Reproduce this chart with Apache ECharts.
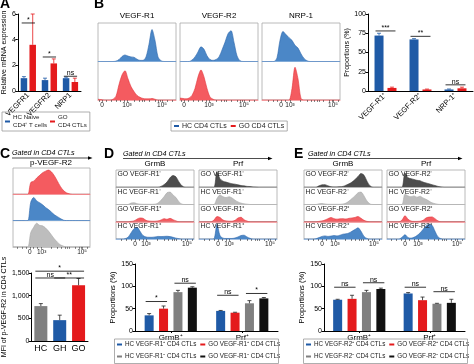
<!DOCTYPE html>
<html><head><meta charset="utf-8">
<script src="https://cdn.jsdelivr.net/npm/echarts@6/dist/echarts.min.js"></script>
<style>html,body{margin:0;padding:0;background:#fff}#c{width:474px;height:364px}</style>
</head><body><div id="c"></div>
<script>
// ---------------- DATA ----------------
// Panel A
const aCats = ['VEGFR1', 'VEGFR2', 'NRP1'];
const aHC = [1.0, 0.85, 1.0];
const aHCerr = [0.12, 0.15, 0.08];
const aGO = [3.6, 2.15, 0.7];
const aGOerr = [2.4, 0.35, 0.3];
const aSig = [[0, 0, 0, 1, 5.3], [1, 0, 1, 1, 2.65], [2, 0, 2, 1, 1.15]];
const aSigText = ['*', '*', 'ns'];
// Panel B bars
const bCats = ['VEGF-R1⁺', 'VEGF-R2⁺', 'NRP-1⁺'];
const bHC = [72, 67, 2];
const bHCerr = [3, 1, 0.6];
const bGO = [4, 2, 3.5];
const bGOerr = [1, 0.5, 1.5];
const bSig = [[0, 0, 0, 1, 78], [1, 0, 1, 1, 71], [2, 0, 2, 1, 8]];
const bSigText = ['***', '**', 'ns'];
// Panel C bars
const cCats = ['HC', 'GH', 'GO'];
const cVals = [770, 460, 1230];
const cErr = [55, 110, 150];
const cSig = [[0, 0, 1, 0, 1390], [0, 0, 2, 0, 1540], [1, 0, 2, 0, 1390]];
const cSigText = ['ns', '*', '**'];
// Panel D bars
const dCats = ['GrmB⁺', 'Prf⁺'];
const dHCpos = [35, 45], dHCposErr = [4, 1];
const dGOpos = [50, 41], dGOposErr = [6, 1];
const dHCneg = [87, 62], dHCnegErr = [4, 6];
const dGOneg = [97, 73], dGOnegErr = [2, 2];
const dSig = [[0, 0, 0, 1, 66], [0, 2, 0, 3, 107], [1, 0, 1, 1, 80], [1, 2, 1, 3, 84]];
const dSigText = ['*', 'ns', 'ns', '*'];
// Panel E bars
const eCats = ['GrmB⁺', 'Prf⁺'];
const eHCpos = [70, 84], eHCposErr = [1, 2];
const eGOpos = [72, 69], eGOposErr = [8, 7];
const eHCneg = [87, 61], eHCnegErr = [4, 1];
const eGOneg = [94, 63], eGOnegErr = [2, 8];
const eSig = [[0, 0, 0, 1, 98], [0, 2, 0, 3, 108], [1, 0, 1, 1, 98], [1, 2, 1, 3, 88]];
const eSigText = ['ns', 'ns', 'ns', 'ns'];

// Histograms (fluorescence channel 0..78, normalised counts)
const histX = [0,3,6,9,12,15,18,21,24,27,30,33,36,39,42,45,48,51,54,57,60,63,66,69,72,75,78];
const bR1_HC = [0,0,0,0,0,0,0.01,0.05,0.13,0.17,0.14,0.12,0.11,0.06,0.03,0.03,0.12,0.45,0.83,0.55,0.12,0.02,0,0,0,0,0];
const bR1_GO = [0.02,0.01,0,0,0,0.02,0.1,0.4,0.65,0.76,0.55,0.35,0.22,0.12,0.07,0.04,0.03,0.03,0.04,0.02,0,0,0,0,0,0,0];
const bR2_HC = [0,0,0,0,0.04,0.12,0.25,0.38,0.32,0.15,0.05,0.03,0.05,0.12,0.3,0.5,0.72,0.8,0.5,0.15,0.02,0,0,0,0,0,0];
const bR2_GO = [0.05,0.04,0.03,0.05,0.12,0.3,0.6,0.78,0.6,0.3,0.08,0.02,0,0,0,0,0,0,0,0,0,0,0,0,0,0,0];
const bNRP_HC = [0,0,0,0,0,0.1,0.55,0.78,0.7,0.62,0.55,0.42,0.35,0.2,0.08,0.02,0,0,0,0,0,0,0,0,0,0,0];
const bNRP_GO = [0,0,0,0,0,0,0,0,0,0,0.3,0.85,0.55,0.04,0,0,0,0,0,0,0,0,0,0,0,0,0];
const cGO = [0,0,0,0,0,0,0.45,0.5,0.62,0.72,0.82,0.88,0.92,0.85,0.7,0.5,0.3,0.15,0.06,0.02,0,0,0,0,0,0,0];
const cGH = [0,0,0,0,0,0,0.7,0.88,0.75,0.68,0.6,0.5,0.42,0.32,0.22,0.15,0.08,0.02,0,0,0,0,0,0,0,0,0];
const cHC = [0,0,0,0,0,0,0.55,0.75,0.9,0.82,0.8,0.72,0.6,0.45,0.3,0.18,0.08,0.03,0,0,0,0,0,0,0,0,0];
const dG_GOneg = [0,0,0,0,0,0,0,0,0,0,0,0,0,0,0,0.05,0.15,0.3,0.55,0.68,0.6,0.3,0.08,0,0,0,0];
const dG_HCneg = [0,0,0,0,0,0.08,0.1,0.05,0.02,0.01,0.01,0.01,0.01,0.02,0.08,0.25,0.45,0.68,0.72,0.55,0.4,0.15,0.02,0,0,0,0];
const dG_GOpos = [0,0,0,0,0,0.02,0.05,0.15,0.22,0.2,0.08,0.04,0.03,0.03,0.05,0.1,0.18,0.14,0.2,0.12,0.05,0,0,0,0,0,0];
const dG_HCpos = [0,0,0,0.02,0.1,0.35,0.6,0.68,0.45,0.2,0.12,0.1,0.1,0.12,0.15,0.14,0.15,0.16,0.14,0.1,0.05,0.02,0,0,0,0,0];
const dP_GOneg = [0,0,0,0,0,0,0.88,0.5,0.35,0.3,0.25,0.2,0.18,0.14,0.1,0.08,0.05,0.04,0.02,0.01,0,0,0,0,0,0,0];
const dP_HCneg = [0,0,0,0,0,0,0.35,0.55,0.45,0.4,0.45,0.38,0.25,0.15,0.08,0.04,0.02,0,0,0,0,0,0,0,0,0,0];
const dP_GOpos = [0,0,0,0,0,0.1,0.3,0.25,0.1,0.05,0.03,0.03,0.08,0.22,0.26,0.12,0.04,0,0,0,0,0,0,0,0,0,0];
const dP_HCpos = [0,0,0,0,0,0.02,0.85,0.2,0.05,0.03,0.03,0.03,0.06,0.12,0.2,0.22,0.12,0.04,0,0,0,0,0,0,0,0,0];
const eG_GOneg = [0,0,0,0,0,0.08,0.14,0.15,0.08,0.03,0.02,0.02,0.03,0.05,0.12,0.2,0.3,0.45,0.62,0.8,0.7,0.35,0.08,0,0,0,0];
const eG_HCneg = [0,0,0,0,0,0.04,0.06,0.03,0.01,0.01,0.01,0.01,0.01,0.03,0.08,0.2,0.35,0.5,0.68,0.72,0.5,0.2,0.03,0,0,0,0];
const eG_GOpos = [0,0,0,0,0,0.02,0.05,0.1,0.18,0.25,0.18,0.15,0.17,0.18,0.16,0.2,0.22,0.25,0.3,0.2,0.08,0.02,0,0,0,0,0];
const eG_HCpos = [0,0,0,0,0.02,0.08,0.15,0.18,0.15,0.17,0.2,0.18,0.22,0.28,0.3,0.35,0.45,0.55,0.65,0.45,0.15,0.03,0,0,0,0,0];
const eP_GOneg = [0,0,0,0,0,0,0.82,0.55,0.5,0.45,0.4,0.38,0.3,0.25,0.2,0.15,0.1,0.05,0.02,0,0,0,0,0,0,0,0];
const eP_HCneg = [0,0,0,0,0,0,0.6,0.5,0.45,0.5,0.42,0.48,0.38,0.3,0.2,0.1,0.05,0.01,0,0,0,0,0,0,0,0,0];
const eP_GOpos = [0,0,0,0,0,0.1,0.35,0.15,0.04,0.02,0.02,0.03,0.08,0.22,0.27,0.28,0.18,0.05,0,0,0,0,0,0,0,0,0];
const eP_HCpos = [0,0,0,0,0,0.1,0.25,0.08,0.05,0.1,0.2,0.35,0.55,0.75,0.85,0.8,0.45,0.12,0.02,0,0,0,0,0,0,0,0];

// histogram axis tick labels and positions
const histTickLabels = ['0', '10³', '10⁵'];
const bTickPos = [4, 29, 64];
const bNrpTickPos = [19, 28, 71];
const cTickPos = [17, 29, 70];
const dTickPos = [19, 30, 71];
const eTickPos = [18, 31, 70];
const bMinor = [1,4,8,13,18,22,26,29,36,41,44,46,51,57,60,62,64,69,74];
const bNrpMinor = [6,11,15,19,23,28,38,45,49,52,55,57,61,67,70,71,76];
const cMinor = [4,9,13,17,21,25,29,39,45,49,53,55,57,63,67,69,70,75];
const dMinor = [5,10,15,19,23,27,30,41,48,52,56,58,60,65,69,71,76];
const eMinor = [4,9,14,18,22,27,31,41,47,51,55,57,59,64,68,70,75];

// ---------------- LAYOUT / STYLE ----------------
const FONT = '"Liberation Sans", Arial, Helvetica, sans-serif';
const C = {blue: '#1f5aa6', red: '#e41a1c', gray: '#808080', black: '#111111'};
const H = {
  blue: {fill: '#4b87c7', line: '#2f68ad', base: '#a3c0e3'},
  red: {fill: '#f45b60', line: '#e2363c', base: '#f5a3a6'},
  dark: {fill: '#4d4d4d', line: '#3a3a3a', base: '#c4c4c4'},
  light: {fill: '#bdbdbd', line: '#aaaaaa', base: '#c4c4c4'}
};
const grids = [], xAxes = [], yAxes = [], series = [], legends = [], graphics = [];

function addHistBox(left, top, width, rowH, rows, tickPos, minor) {
  rows.forEach((r, i) => {
    const gi = grids.length;
    const last = i === rows.length - 1;
    grids.push({left: left, top: top + i * rowH, width: width, height: rowH, show: true,
      borderColor: '#a8a8a8', borderWidth: 0.8});
    xAxes.push({gridIndex: gi, type: 'value', min: 0, max: 78, splitLine: {show: false},
      axisLine: {show: true, onZero: false, lineStyle: {color: r.s.base, width: 1}},
      axisTick: last ? {show: true, customValues: minor, length: 2, lineStyle: {color: '#333', width: 0.6}} : {show: false},
      axisLabel: last ? {show: true, customValues: tickPos, formatter: v => histTickLabels[tickPos.indexOf(v)] || '',
        fontSize: 6.5, color: '#222', margin: 2, fontFamily: FONT} : {show: false}});
    yAxes.push({gridIndex: gi, type: 'value', min: 0, max: 1, show: false});
    series.push({type: 'line', xAxisIndex: gi, yAxisIndex: gi, silent: true, symbol: 'none', smooth: 0.3,
      data: histX.map((x, j) => [x, r.d[j]]),
      lineStyle: {color: r.s.line, width: 0.6}, areaStyle: {color: r.s.fill, opacity: 1}});
    if (r.label) {
      graphics.push({type: 'text', x: left + 1.5, y: top + i * rowH + 1, z: 50,
        style: {text: r.label, fill: '#1a1a1a', font: '6.8px ' + FONT, textVerticalAlign: 'top'}});
    }
  });
}

function addBarPanel(p) {
  const gi = grids.length;
  grids.push({left: p.left, top: p.top, width: p.width, height: p.height});
  xAxes.push({gridIndex: gi, type: 'category', data: p.cats,
    axisLine: {show: true, lineStyle: {color: '#000', width: 1}},
    axisTick: {show: !!p.catTick, alignWithLabel: true, length: 2, lineStyle: {color: '#000'}},
    axisLabel: {interval: 0, rotate: p.rotate || 0, fontSize: p.catFont, color: '#000', margin: p.catMargin, fontFamily: FONT}});
  yAxes.push({gridIndex: gi, type: 'value', min: 0, max: p.yMax, interval: p.yInt,
    name: p.yName, nameLocation: 'middle', nameGap: p.nameGap,
    nameTextStyle: {fontSize: p.nameFont, color: '#000', fontFamily: FONT},
    axisLine: {show: true, lineStyle: {color: '#000', width: 1}},
    axisTick: {show: true, length: 2.5, lineStyle: {color: '#000'}},
    axisLabel: {fontSize: 7, color: '#000', margin: 2, fontFamily: FONT},
    splitLine: {show: false}});
  const n = p.bars.length;
  const step = p.barW * (1 + p.gap);
  const off = k => (k - (n - 1) / 2) * step;
  p.bars.forEach((b, k) => {
    series.push({type: 'bar', name: b.name, xAxisIndex: gi, yAxisIndex: gi, silent: true,
      data: b.colors ? b.data.map((v, i) => ({value: v, itemStyle: {color: b.colors[i]}})) : b.data,
      barWidth: p.barW, barGap: (p.gap * 100) + '%', itemStyle: {color: b.color}});
    series.push({type: 'custom', xAxisIndex: gi, yAxisIndex: gi, silent: true, z: 5,
      data: b.data.map((v, i) => [i, v, b.err[i]]),
      renderItem: (params, api) => {
        const p0 = api.coord([api.value(0), api.value(1)]);
        const p1 = api.coord([api.value(0), api.value(1) + api.value(2)]);
        const x = p0[0] + off(k);
        const col = p.errColor || b.color || '#000';
        return {type: 'group', children: [
          {type: 'line', shape: {x1: x, y1: p0[1], x2: x, y2: p1[1]}, style: {stroke: col, lineWidth: 0.8}},
          {type: 'line', shape: {x1: x - 2, y1: p1[1], x2: x + 2, y2: p1[1]}, style: {stroke: col, lineWidth: 0.8}}]};
      }});
  });
  series.push({type: 'custom', xAxisIndex: gi, yAxisIndex: gi, silent: true, z: 6,
    data: p.sig,
    renderItem: (params, api) => {
      const a = api.coord([api.value(0), api.value(4)]);
      const c = api.coord([api.value(2), api.value(4)]);
      const x1 = a[0] + off(api.value(1)) - p.barW / 2 + 1;
      const x2 = c[0] + off(api.value(3)) + p.barW / 2 - 1;
      return {type: 'group', children: [
        {type: 'line', shape: {x1: x1, y1: a[1], x2: x2, y2: a[1]}, style: {stroke: '#000', lineWidth: 0.8}},
        {type: 'text', x: (x1 + x2) / 2, y: a[1] + 0.5,
          style: {text: p.sigText[params.dataIndex], fill: '#000', font: '7px ' + FONT, textAlign: 'center', textVerticalAlign: 'bottom'}}]};
    }});
}

function txt(x, y, text, font, align, valign, fill) {
  graphics.push({type: 'text', x: x, y: y, z: 50,
    style: {text: text, font: font, fill: fill || '#000', textAlign: align || 'left', textVerticalAlign: valign || 'top'}});
}
function gated(x1, x2, y) {
  txt(x1, y - 1.2, 'Gated in CD4 CTLs', 'italic 7.2px ' + FONT, 'left', 'bottom');
  graphics.push({type: 'line', z: 50, shape: {x1: x1, y1: y, x2: x2, y2: y}, style: {stroke: '#000', lineWidth: 0.7}});
  graphics.push({type: 'polygon', z: 50, shape: {points: [[x2, y - 1.8], [x2 + 4.5, y], [x2, y + 1.8]]}, style: {fill: '#000'}});
}
function legendBox(x, y, w, h) {
  graphics.push({type: 'rect', z: 40, shape: {x: x, y: y, width: w, height: h},
    style: {fill: 'none', stroke: '#999', lineWidth: 0.8}});
}
const legendText = {fontSize: 6.3, color: '#222', fontFamily: FONT, padding: [0, 0, 0, -2]};
function legendRow(left, top, names) {
  legends.push({left: left, top: top, width: 200, data: names, icon: 'rect', orient: 'horizontal',
    itemWidth: 5, itemHeight: 2, itemGap: 4, padding: 0, selectedMode: false, textStyle: legendText});
}

// ---------------- PANEL A ----------------
addBarPanel({left: 15, top: 14, width: 66, height: 77, cats: aCats, yMax: 6, yInt: 2,
  yName: 'Relative mRNA expression', nameGap: 9, nameFont: 7, rotate: 45, catFont: 7.5, catMargin: 3,
  barW: 6.5, gap: 0.35, sig: aSig, sigText: aSigText,
  bars: [{name: 'HC Naive\nCD4⁺ T cells', data: aHC, err: aHCerr, color: C.blue},
         {name: 'GO\nCD4 CTLs', data: aGO, err: aGOerr, color: C.red}]});
legends.push({left: 2, top: 112, data: ['HC Naive\nCD4⁺ T cells', 'GO\nCD4 CTLs'], icon: 'rect',
  itemWidth: 5, itemHeight: 2, itemGap: 3, padding: [2, 3], borderColor: '#999', borderWidth: 0.8, borderRadius: 0,
  selectedMode: false, textStyle: {fontSize: 6.2, lineHeight: 7.5, color: '#222', fontFamily: FONT, padding: [0, 0, 0, -2]}});

// ---------------- PANEL B ----------------
addHistBox(98, 23, 78, 38.5, [{d: bR1_HC, s: H.blue}, {d: bR1_GO, s: H.red}], bTickPos, bMinor);
addHistBox(180, 23, 78, 38.5, [{d: bR2_HC, s: H.blue}, {d: bR2_GO, s: H.red}], bTickPos, bMinor);
addHistBox(262, 23, 78, 38.5, [{d: bNRP_HC, s: H.blue}, {d: bNRP_GO, s: H.red}], bNrpTickPos, bNrpMinor);
txt(137, 16, 'VEGF-R1', '8px ' + FONT, 'center', 'middle');
txt(219, 16, 'VEGF-R2', '8px ' + FONT, 'center', 'middle');
txt(301, 16, 'NRP-1', '8px ' + FONT, 'center', 'middle');
addBarPanel({left: 368, top: 14, width: 105, height: 77, cats: bCats, yMax: 100, yInt: 25,
  yName: 'Proportions (%)', nameGap: 14, nameFont: 7, rotate: 45, catFont: 7.5, catMargin: 3,
  barW: 9, gap: 0.44, sig: bSig, sigText: bSigText,
  bars: [{name: 'HC CD4 CTLs', data: bHC, err: bHCerr, color: C.blue},
         {name: 'GO CD4 CTLs', data: bGO, err: bGOerr, color: C.red}]});
legends.push({left: 171, top: 121, data: ['HC CD4 CTLs', 'GO CD4 CTLs'], icon: 'rect',
  itemWidth: 5, itemHeight: 2, itemGap: 4, padding: [1.5, 3], borderColor: '#999', borderWidth: 0.8,
  selectedMode: false, textStyle: {fontSize: 7, color: '#222', fontFamily: FONT, padding: [0, 0, 0, -2]}});

// ---------------- PANEL C ----------------
gated(12, 88, 158);
txt(51, 163, 'p-VEGF-R2', '8px ' + FONT, 'center', 'middle');
addHistBox(13, 168, 77, 26.3, [{d: cGO, s: H.red}, {d: cGH, s: H.blue}, {d: cHC, s: H.light}], cTickPos, cMinor);
addBarPanel({left: 28, top: 273, width: 60, height: 68, cats: cCats, yMax: 1500, yInt: 500,
  yName: 'MFI of p-VEGF-R2 in CD4 CTLs', nameGap: 20, nameFont: 7, catFont: 9, catMargin: 3,
  barW: 13, gap: 0.3, sig: cSig, sigText: cSigText, errColor: '#222',
  bars: [{name: 'MFI', data: cVals, err: cErr, colors: [C.gray, C.blue, C.red]}]});

// ---------------- PANEL D ----------------
gated(123, 268, 158.5);
txt(155, 164, 'GrmB', '8px ' + FONT, 'center', 'middle');
txt(238, 164, 'Prf', '8px ' + FONT, 'center', 'middle');
addHistBox(116, 170, 78, 17.25, [
  {d: dG_GOneg, s: H.dark, label: 'GO VEGF-R1⁻'}, {d: dG_HCneg, s: H.light, label: 'HC VEGF-R1⁻'},
  {d: dG_GOpos, s: H.red, label: 'GO VEGF-R1⁺'}, {d: dG_HCpos, s: H.blue, label: 'HC VEGF-R1⁺'}], dTickPos, dMinor);
addHistBox(199, 170, 78, 17.25, [
  {d: dP_GOneg, s: H.dark, label: 'GO VEGF-R1⁻'}, {d: dP_HCneg, s: H.light, label: 'HC VEGF-R1⁻'},
  {d: dP_GOpos, s: H.red, label: 'GO VEGF-R1⁺'}, {d: dP_HCpos, s: H.blue, label: 'HC VEGF-R1⁺'}], dTickPos, dMinor);
const dNames = ['HC VEGF-R1⁺ CD4 CTLs', 'GO VEGF-R1⁺ CD4 CTLs', 'HC VEGF-R1⁻ CD4 CTLs', 'GO VEGF-R1⁻ CD4 CTLs'];
addBarPanel({left: 135, top: 264, width: 143, height: 67, cats: dCats, yMax: 150, yInt: 50,
  yName: 'Proportions (%)', nameGap: 15, nameFont: 7.5, catFont: 8, catMargin: 3, catTick: true,
  barW: 9, gap: 0.6, sig: dSig, sigText: dSigText, errColor: '#222',
  bars: [{name: dNames[0], data: dHCpos, err: dHCposErr, color: C.blue},
         {name: dNames[1], data: dGOpos, err: dGOposErr, color: C.red},
         {name: dNames[2], data: dHCneg, err: dHCnegErr, color: C.gray},
         {name: dNames[3], data: dGOneg, err: dGOnegErr, color: C.black}]});
legendRow(117, 341.5, [dNames[0], dNames[1]]);
legendRow(117, 353.5, [dNames[2], dNames[3]]);
legendBox(114.5, 339, 164, 24.5);

// ---------------- PANEL E ----------------
gated(308, 458, 158.5);
txt(343, 164, 'GrmB', '8px ' + FONT, 'center', 'middle');
txt(426, 164, 'Prf', '8px ' + FONT, 'center', 'middle');
addHistBox(304, 170, 78, 17.25, [
  {d: eG_GOneg, s: H.dark, label: 'GO VEGF-R2⁻'}, {d: eG_HCneg, s: H.light, label: 'HC VEGF-R2⁻'},
  {d: eG_GOpos, s: H.red, label: 'GO VEGF-R2⁺'}, {d: eG_HCpos, s: H.blue, label: 'HC VEGF-R2⁺'}], eTickPos, eMinor);
addHistBox(387, 170, 78, 17.25, [
  {d: eP_GOneg, s: H.dark, label: 'GO VEGF-R2⁻'}, {d: eP_HCneg, s: H.light, label: 'HC VEGF-R2⁻'},
  {d: eP_GOpos, s: H.red, label: 'GO VEGF-R2⁺'}, {d: eP_HCpos, s: H.blue, label: 'HC VEGF-R2⁺'}], eTickPos, eMinor);
const eNames = ['HC VEGF-R2⁺ CD4 CTLs', 'GO VEGF-R2⁺ CD4 CTLs', 'HC VEGF-R2⁻ CD4 CTLs', 'GO VEGF-R2⁻ CD4 CTLs'];
addBarPanel({left: 324, top: 264, width: 141, height: 67, cats: eCats, yMax: 150, yInt: 50,
  yName: 'Proportions (%)', nameGap: 15, nameFont: 7.5, catFont: 8, catMargin: 3, catTick: true,
  barW: 9, gap: 0.6, sig: eSig, sigText: eSigText, errColor: '#222',
  bars: [{name: eNames[0], data: eHCpos, err: eHCposErr, color: C.blue},
         {name: eNames[1], data: eGOpos, err: eGOposErr, color: C.red},
         {name: eNames[2], data: eHCneg, err: eHCnegErr, color: C.gray},
         {name: eNames[3], data: eGOneg, err: eGOnegErr, color: C.black}]});
legendRow(306, 341.5, [eNames[0], eNames[1]]);
legendRow(306, 353.5, [eNames[2], eNames[3]]);
legendBox(303.5, 339, 164, 24.5);

// Panel letters
txt(0, -3, 'A', 'bold 14px ' + FONT);
txt(94, -3, 'B', 'bold 14px ' + FONT);
txt(0, 147, 'C', 'bold 14px ' + FONT);
txt(104, 147, 'D', 'bold 14px ' + FONT);
txt(294, 147, 'E', 'bold 14px ' + FONT);

const chart = echarts.init(document.getElementById('c'), null, {renderer: 'canvas'});
chart.setOption({
  animation: false,
  backgroundColor: '#fff',
  textStyle: {fontFamily: FONT},
  grid: grids, xAxis: xAxes, yAxis: yAxes, series: series, legend: legends,
  graphic: {elements: graphics}
});
</script></body></html>
